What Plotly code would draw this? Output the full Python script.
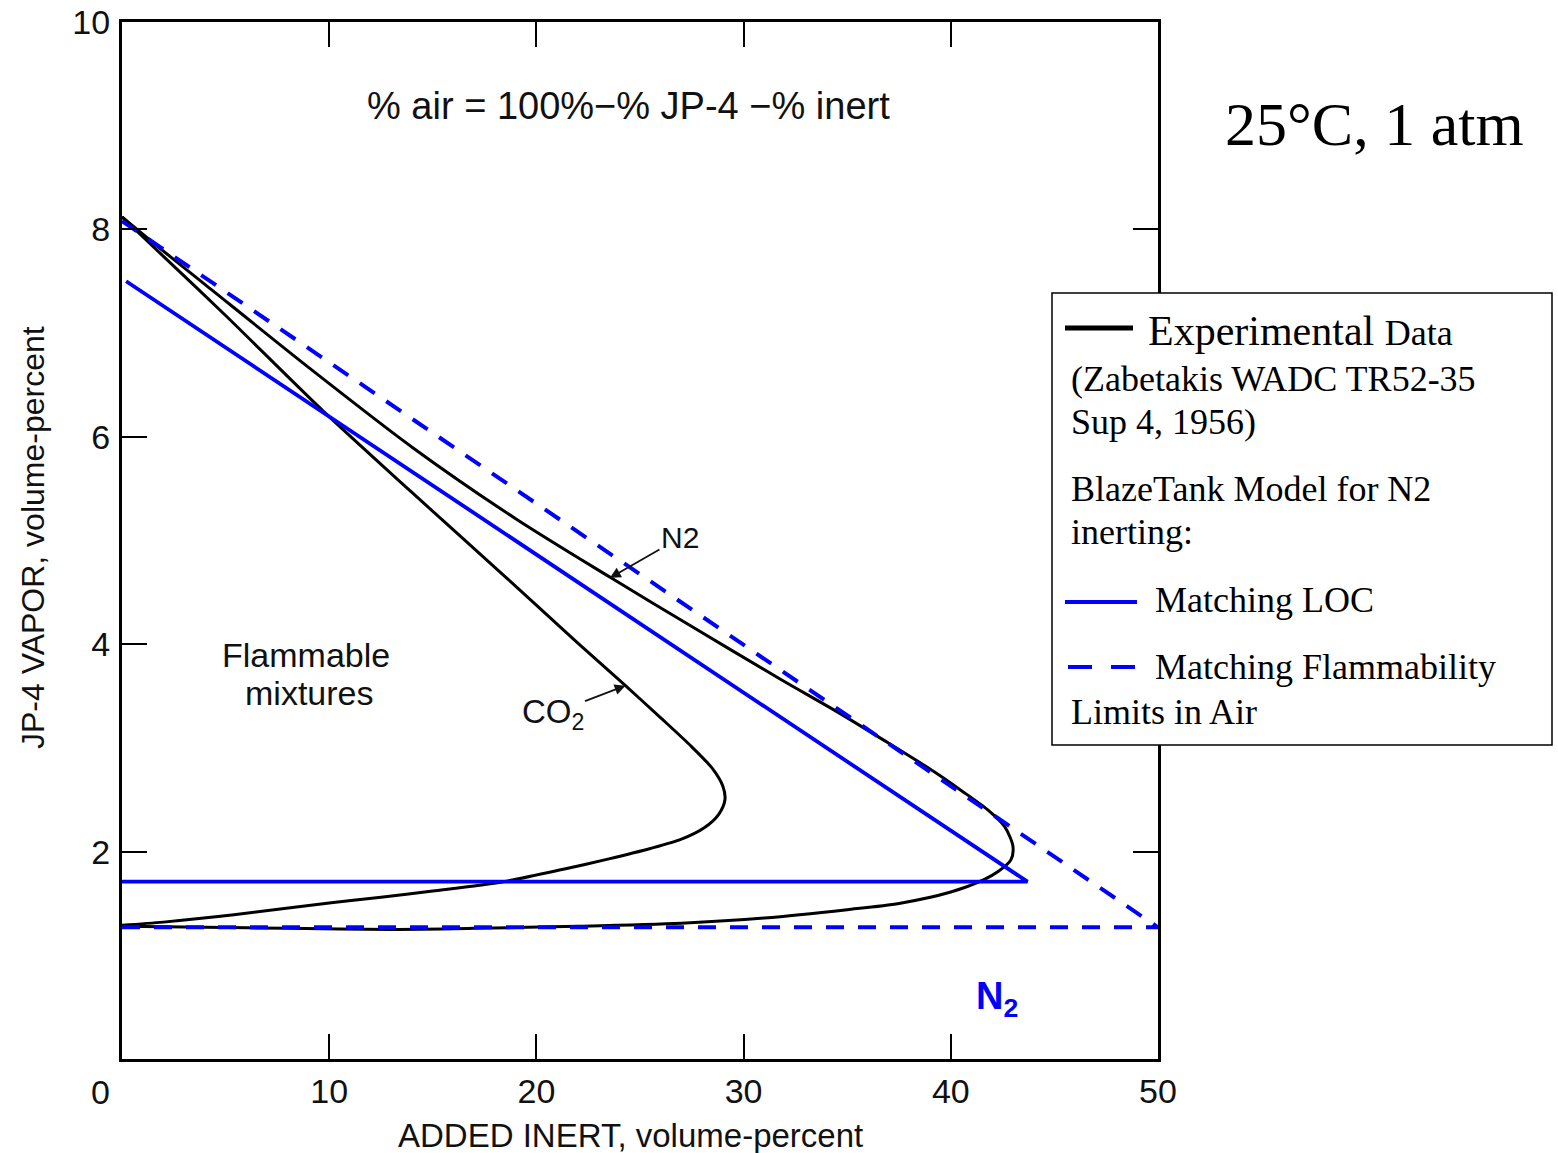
import plotly.graph_objects as go

# ---------------- data ----------------
n2_x = [0, 2, 4, 9, 14, 19, 23.6, 27.5, 31.8, 34.5, 36.8, 39.2, 40.5, 41.8, 42.6, 43.0,
        42.9, 42.3, 41.6, 40.0, 37.5, 35, 31, 27, 22, 17, 13, 8, 4, 0]
n2_y = [8.12, 7.79, 7.47, 6.67, 5.90, 5.21, 4.64, 4.17, 3.66, 3.35, 3.07, 2.77, 2.59, 2.40, 2.24, 2.05,
        1.92, 1.81, 1.73, 1.61, 1.50, 1.44, 1.36, 1.31, 1.28, 1.26, 1.25, 1.26, 1.27, 1.28]

co2_x = [0, 2, 5, 9.7, 13.9, 18.5, 22, 24.3, 26.0, 27.5, 28.5, 29.0, 29.1, 28.8, 28.1, 27.0, 25.5,
         23.5, 21.3, 18.4, 15, 12.5, 10.2, 5.4, 2, 0]
co2_y = [8.12, 7.74, 7.17, 6.25, 5.48, 4.65, 4.01, 3.60, 3.29, 3.01, 2.80, 2.63, 2.50, 2.36, 2.23, 2.12, 2.03,
         1.93, 1.83, 1.71, 1.62, 1.56, 1.51, 1.39, 1.32, 1.29]

loc_x = [0.2, 43.7, 0]
loc_y = [7.5, 1.71, 1.71]

fl_x = [0, 50, 0]
fl_y = [1.27, 1.27, 8.08]

x_tickvals = [10, 20, 30, 40, 50]
x_ticktext = ["10", "20", "30", "40", "50"]
y_tickvals = [2, 4, 6, 8, 10]
y_ticktext = ["2", "4", "6", "8", "10"]

co2_arrow_tip = (24.3, 3.60)
n2_arrow_tip = (23.55, 4.64)

# ---------------- layout helpers ----------------
W, H = 1558, 1153
L, R, T, B = 122, 400, 22, 94
PW, PH = W - L - R, H - T - B


def px(x):
    return (x - L) / PW


def py(y):
    return (H - B - y) / PH


SANS = "Liberation Sans"
SERIF = "Liberation Serif"
BLUE = "#0000FF"

fig = go.Figure()
fig.add_trace(go.Scatter(x=n2_x, y=n2_y, mode="lines",
                         line=dict(color="black", width=3, shape="spline", smoothing=0.8),
                         showlegend=False, hoverinfo="skip"))
fig.add_trace(go.Scatter(x=co2_x, y=co2_y, mode="lines",
                         line=dict(color="black", width=3, shape="spline", smoothing=0.8),
                         showlegend=False, hoverinfo="skip"))
fig.add_trace(go.Scatter(x=loc_x, y=loc_y, mode="lines",
                         line=dict(color=BLUE, width=3.8),
                         showlegend=False, hoverinfo="skip"))
fig.add_trace(go.Scatter(x=fl_x, y=fl_y, mode="lines",
                         line=dict(color=BLUE, width=4, dash="18px,14px"),
                         showlegend=False, hoverinfo="skip"))

axis_common = dict(showline=True, linewidth=3, linecolor="black", mirror="ticks",
                   ticks="inside", ticklen=25, tickwidth=2, tickcolor="black",
                   showgrid=False, zeroline=False, automargin=False,
                   tickfont=dict(family=SANS, size=34, color="#111"))

fig.update_xaxes(range=[0, 50], tickmode="array", tickvals=x_tickvals, ticktext=x_ticktext,
                 ticklabelstandoff=0, **axis_common)
fig.update_yaxes(range=[0, 10], tickmode="array", tickvals=y_tickvals, ticktext=y_ticktext,
                 ticklabelstandoff=2, **axis_common)

ann = []


def text(x, y, s, size, family=SANS, color="#111", xanchor="center", yanchor="middle", angle=0):
    ann.append(dict(x=px(x), y=py(y), xref="paper", yref="paper", text=s, showarrow=False,
                    xanchor=xanchor, yanchor=yanchor, textangle=angle,
                    font=dict(family=family, size=size, color=color)))


# zero tick label
text(100, 1092, "0", 34)
# axis titles
text(630, 1135, "ADDED INERT, volume-percent", 33)
text(33, 538, "JP-4 VAPOR, volume-percent", 32, angle=-90)
# inner notes
text(628, 106, "% air = 100%\u2212% JP-4 \u2212% inert", 38)
text(306, 655, "Flammable", 34)
text(309, 693, "mixtures", 34)
text(997, 999, "<b>N<sub>2</sub></b>", 38, color=BLUE)
text(1374, 124, "25\u00b0C, 1 atm", 62, family=SERIF, color="black")

# arrows to curves
ann.append(dict(x=co2_arrow_tip[0], y=co2_arrow_tip[1], xref="x", yref="y",
                text="CO<sub>2</sub>", showarrow=True, ax=-73, ay=28,
                arrowhead=2, arrowsize=1.2, arrowwidth=1.8, arrowcolor="#111",
                font=dict(family=SANS, size=33, color="#111")))
ann.append(dict(x=n2_arrow_tip[0], y=n2_arrow_tip[1], xref="x", yref="y",
                text="N2", showarrow=True, ax=70, ay=-40,
                arrowhead=2, arrowsize=1.2, arrowwidth=1.8, arrowcolor="#111",
                font=dict(family=SANS, size=30, color="#111")))

# legend (manual)
text(1146, 331, "Experimental <span style='font-size:36px'>Data</span>", 42,
     family=SERIF, color="black", xanchor="left")
text(1069, 379, "(Zabetakis WADC TR52-35", 36, family=SERIF, color="black", xanchor="left")
text(1069, 422, "Sup 4, 1956)", 36, family=SERIF, color="black", xanchor="left")
text(1069, 489, "BlazeTank Model for N2", 36, family=SERIF, color="black", xanchor="left")
text(1069, 532, "inerting:", 36, family=SERIF, color="black", xanchor="left")
text(1153, 600, "Matching LOC", 36, family=SERIF, color="black", xanchor="left")
text(1153, 667, "Matching Flammability", 36, family=SERIF, color="black", xanchor="left")
text(1069, 712, "Limits in Air", 36, family=SERIF, color="black", xanchor="left")

shapes = [
    dict(type="rect", xref="paper", yref="paper", x0=px(1052), x1=px(1552), y0=py(293), y1=py(745),
         line=dict(color="black", width=1.5), fillcolor="white", layer="above"),
    dict(type="line", xref="paper", yref="paper", x0=px(1065), x1=px(1133), y0=py(328), y1=py(328),
         line=dict(color="black", width=5), layer="above"),
    dict(type="line", xref="paper", yref="paper", x0=px(1065), x1=px(1137), y0=py(602), y1=py(602),
         line=dict(color=BLUE, width=4), layer="above"),
    dict(type="line", xref="paper", yref="paper", x0=px(1068), x1=px(1135), y0=py(667), y1=py(667),
         line=dict(color=BLUE, width=4, dash="24px,19px"), layer="above"),
]

fig.update_layout(width=W, height=H, margin=dict(l=L, r=R, t=T, b=B, autoexpand=False),
                  paper_bgcolor="white", plot_bgcolor="white",
                  annotations=ann, shapes=shapes, showlegend=False)

fig.write_html("out.html", config={"responsive": False, "displayModeBar": False},
               post_script="document.body.style.margin='0';document.body.style.overflow='hidden';")
